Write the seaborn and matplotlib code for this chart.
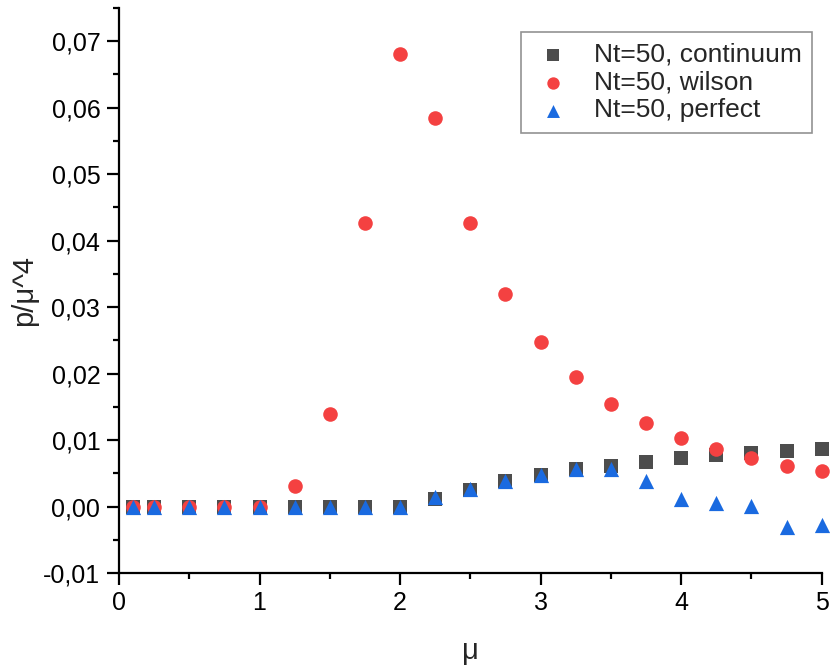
import numpy as np
import pandas as pd
import matplotlib
matplotlib.use("Agg")
import matplotlib.pyplot as plt
import seaborn as sns
from matplotlib.ticker import MultipleLocator, FuncFormatter

mu = [0.1, 0.25, 0.5, 0.75, 1.0, 1.25, 1.5, 1.75, 2.0, 2.25, 2.5,
      2.75, 3.0, 3.25, 3.5, 3.75, 4.0, 4.25, 4.5, 4.75, 5.0]

p_continuum = [0.0, 0.0, 0.0, 0.0, 0.0, 0.0, 0.0, 0.0, 0.0, 0.0011, 0.0025,
               0.0038, 0.0048, 0.0057, 0.0062, 0.0068, 0.0073, 0.0078, 0.0081,
               0.0084, 0.0087]
p_wilson = [0.0, 0.0, 0.0, 0.0, 0.0, 0.0031, 0.0139, 0.0427, 0.0681, 0.0585,
            0.0427, 0.0320, 0.0247, 0.0195, 0.0155, 0.0126, 0.0104, 0.0087,
            0.0073, 0.0062, 0.0054]
p_perfect = [0.0, 0.0, 0.0, 0.0, 0.0, 0.0, 0.0, 0.0, 0.0, 0.0014, 0.0026,
             0.0038, 0.0048, 0.0057, 0.0057, 0.0038, 0.0011, 0.0005, 0.0001,
             -0.0030, -0.0027]

series_names = ["Nt=50, continuum", "Nt=50, wilson", "Nt=50, perfect"]
series_values = [p_continuum, p_wilson, p_perfect]

frames = [pd.DataFrame({"mu": mu, "p": vals, "series": name})
          for name, vals in zip(series_names, series_values)]
df = pd.concat(frames, ignore_index=True)

sns.set_theme(style="ticks")
plt.rcParams["font.family"] = ["Liberation Sans", "DejaVu Sans"]

fig = plt.figure(figsize=(8.3, 6.65), dpi=100)
ax = fig.add_axes([0.1434, 0.138, 0.8466, 0.850])

palette = {series_names[0]: "#4d4d4d",
           series_names[1]: "#f44141",
           series_names[2]: "#1a6ae0"}
markers = {series_names[0]: "s",
           series_names[1]: "o",
           series_names[2]: "^"}
sizes = {series_names[0]: 90, series_names[1]: 110, series_names[2]: 120}

for i, name in enumerate(series_names):
    sns.scatterplot(data=df[df["series"] == name], x="mu", y="p",
                    color=palette[name], marker=markers[name],
                    s=sizes[name], linewidth=0, label=name, ax=ax,
                    zorder=3 + i, clip_on=False)

ax.set_xlim(0, 5)
ax.set_ylim(-0.01, 0.075)
ax.xaxis.set_major_locator(MultipleLocator(1))
ax.xaxis.set_minor_locator(MultipleLocator(0.5))
ax.yaxis.set_major_locator(MultipleLocator(0.01))
ax.yaxis.set_minor_locator(MultipleLocator(0.005))
ax.yaxis.set_major_formatter(FuncFormatter(
    lambda v, _: f"{v:.2f}".replace(".", ",").replace("-0,00", "0,00")))
ax.xaxis.set_major_formatter(FuncFormatter(lambda v, _: f"{v:.0f}"))

for side in ["top", "right"]:
    ax.spines[side].set_visible(False)
for side in ["left", "bottom"]:
    ax.spines[side].set_linewidth(1.6)
    ax.spines[side].set_color("black")

ax.tick_params(which="major", direction="out", length=8.5, width=1.6,
               labelsize=18, colors="black")
ax.tick_params(axis="y", which="major", pad=5)
ax.tick_params(axis="x", which="major", pad=4)
ax.tick_params(which="minor", direction="out", length=4, width=1.6,
               colors="black")

ax.set_xlabel("μ", fontsize=21, labelpad=16)
ax.set_ylabel("p/μ^4", fontsize=21, labelpad=4)

leg = ax.legend(loc="upper right", bbox_to_anchor=(812 / 830, 1 - 32 / 665),
                bbox_transform=fig.transFigure,
                fontsize=19, frameon=True, fancybox=False,
                edgecolor="#777777", handlelength=1.6, handletextpad=0.74,
                borderpad=0.4, labelspacing=0.15, borderaxespad=0,
                markerscale=0.85)
leg.get_frame().set_linewidth(1.2)

fig.savefig("out.png", dpi=100)
